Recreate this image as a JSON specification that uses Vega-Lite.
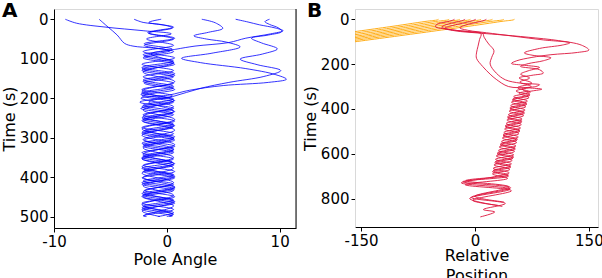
{
"$schema": "https://vega.github.io/schema/vega-lite/v6.json",
"padding": {"left": 0, "top": 0, "right": 0, "bottom": 0},
"bounds": "flush",
"spacing": 59,
"config": {
  "view": {"stroke": "#d9d9d9", "strokeWidth": 1},
  "font": "DejaVu Sans",
  "axis": {"labelFont": "DejaVu Sans", "titleFont": "DejaVu Sans", "labelFontSize": 15, "titleFontSize": 16, "labelColor": "#000", "titleColor": "#000", "titleFontWeight": "normal", "grid": false, "tickColor": "#000", "domainColor": "#000", "tickSize": 4, "labelPadding": 2, "labelFlush": false}
},
"datasets": {
"a": [
{"g":"m9","t":0,"x":-9},{"g":"m9","t":10,"x":-8},{"g":"m9","t":20,"x":-5.4},{"g":"m9","t":29,"x":-2.1},{"g":"m9","t":37,"x":0.4},{"g":"m9","t":50,"x":-1.8},{"g":"m9","t":66,"x":0.6},{"g":"m9","t":82,"x":-2.1},{"g":"m9","t":98,"x":0.7},{"g":"m9","t":114,"x":-2.2},{"g":"m9","t":130,"x":0.6},{"g":"m9","t":146,"x":-2.1},{"g":"m9","t":162,"x":0.6},{"g":"m9","t":178,"x":-2.2},{"g":"m9","t":194,"x":0.5},{"g":"m9","t":210,"x":-2.4},{"g":"m9","t":226,"x":0.6},{"g":"m9","t":242,"x":-2.1},{"g":"m9","t":258,"x":0.7},{"g":"m9","t":274,"x":-2.2},{"g":"m9","t":290,"x":0.6},{"g":"m9","t":306,"x":-2.0},{"g":"m9","t":322,"x":0.7},{"g":"m9","t":338,"x":-2.2},{"g":"m9","t":354,"x":0.6},{"g":"m9","t":370,"x":-2.1},{"g":"m9","t":386,"x":0.7},{"g":"m9","t":402,"x":-2.2},{"g":"m9","t":418,"x":0.6},{"g":"m9","t":434,"x":-2.0},{"g":"m9","t":450,"x":0.7},{"g":"m9","t":466,"x":-2.2},{"g":"m9","t":482,"x":0.6},{"g":"m9","t":498,"x":-2.1},{"g":"m9","t":500,"x":-1.9},
{"g":"m6","t":0,"x":-6},{"g":"m6","t":20,"x":-5.2},{"g":"m6","t":40,"x":-4.4},{"g":"m6","t":61,"x":-3.75},{"g":"m6","t":68,"x":-3.0},{"g":"m6","t":73,"x":-1.2},{"g":"m6","t":80,"x":0.3},{"g":"m6","t":94,"x":-2.0},{"g":"m6","t":110,"x":0.6},{"g":"m6","t":126,"x":-2.2},{"g":"m6","t":142,"x":0.7},{"g":"m6","t":158,"x":-2.1},{"g":"m6","t":174,"x":0.6},{"g":"m6","t":190,"x":-2.3},{"g":"m6","t":206,"x":0.7},{"g":"m6","t":222,"x":-2.2},{"g":"m6","t":238,"x":0.5},{"g":"m6","t":254,"x":-2.1},{"g":"m6","t":270,"x":0.7},{"g":"m6","t":286,"x":-2.2},{"g":"m6","t":302,"x":0.6},{"g":"m6","t":318,"x":-2.1},{"g":"m6","t":334,"x":0.6},{"g":"m6","t":350,"x":-2.2},{"g":"m6","t":366,"x":0.7},{"g":"m6","t":382,"x":-2.0},{"g":"m6","t":398,"x":0.6},{"g":"m6","t":414,"x":-2.2},{"g":"m6","t":430,"x":0.7},{"g":"m6","t":446,"x":-2.1},{"g":"m6","t":462,"x":0.6},{"g":"m6","t":478,"x":-2.2},{"g":"m6","t":494,"x":0.6},{"g":"m6","t":500,"x":0.0},
{"g":"m3","t":0,"x":-2.9},{"g":"m3","t":8,"x":-2.1},{"g":"m3","t":14,"x":-0.35},{"g":"m3","t":22,"x":0.5},{"g":"m3","t":35,"x":-1.6},{"g":"m3","t":50,"x":0.6},{"g":"m3","t":66,"x":-2.0},{"g":"m3","t":82,"x":0.6},{"g":"m3","t":98,"x":-2.1},{"g":"m3","t":114,"x":0.7},{"g":"m3","t":130,"x":-2.2},{"g":"m3","t":146,"x":0.6},{"g":"m3","t":162,"x":-2.0},{"g":"m3","t":178,"x":0.7},{"g":"m3","t":194,"x":-2.2},{"g":"m3","t":210,"x":0.6},{"g":"m3","t":226,"x":-2.3},{"g":"m3","t":242,"x":0.6},{"g":"m3","t":258,"x":-2.1},{"g":"m3","t":274,"x":0.5},{"g":"m3","t":290,"x":-2.2},{"g":"m3","t":306,"x":0.7},{"g":"m3","t":322,"x":-2.1},{"g":"m3","t":338,"x":0.6},{"g":"m3","t":354,"x":-2.2},{"g":"m3","t":370,"x":0.6},{"g":"m3","t":386,"x":-2.1},{"g":"m3","t":402,"x":0.7},{"g":"m3","t":418,"x":-2.2},{"g":"m3","t":434,"x":0.6},{"g":"m3","t":450,"x":-2.1},{"g":"m3","t":466,"x":0.7},{"g":"m3","t":482,"x":-2.2},{"g":"m3","t":498,"x":0.5},{"g":"m3","t":500,"x":0.3},
{"g":"z0","t":0,"x":-0.5},{"g":"z0","t":8,"x":-1.6},{"g":"z0","t":20,"x":0.6},{"g":"z0","t":34,"x":-1.7},{"g":"z0","t":48,"x":0.7},{"g":"z0","t":62,"x":-2.0},{"g":"z0","t":76,"x":0.5},{"g":"z0","t":90,"x":-2.1},{"g":"z0","t":106,"x":0.6},{"g":"z0","t":122,"x":-2.2},{"g":"z0","t":138,"x":0.7},{"g":"z0","t":154,"x":-2.1},{"g":"z0","t":170,"x":0.6},{"g":"z0","t":186,"x":-2.2},{"g":"z0","t":202,"x":0.6},{"g":"z0","t":218,"x":-2.1},{"g":"z0","t":234,"x":0.7},{"g":"z0","t":250,"x":-2.2},{"g":"z0","t":266,"x":0.6},{"g":"z0","t":282,"x":-2.0},{"g":"z0","t":298,"x":0.7},{"g":"z0","t":314,"x":-2.2},{"g":"z0","t":330,"x":0.6},{"g":"z0","t":346,"x":-2.1},{"g":"z0","t":362,"x":0.5},{"g":"z0","t":378,"x":-2.2},{"g":"z0","t":394,"x":0.6},{"g":"z0","t":410,"x":-2.1},{"g":"z0","t":426,"x":0.7},{"g":"z0","t":442,"x":-2.2},{"g":"z0","t":458,"x":0.6},{"g":"z0","t":474,"x":-2.1},{"g":"z0","t":490,"x":0.6},{"g":"z0","t":500,"x":-0.8},
{"g":"p3","t":0,"x":3.1},{"g":"p3","t":9,"x":4.3},{"g":"p3","t":23,"x":4.96},{"g":"p3","t":33,"x":3.7},{"g":"p3","t":42,"x":2.4},{"g":"p3","t":50,"x":3.5},{"g":"p3","t":58,"x":5.3},{"g":"p3","t":70,"x":6.5},{"g":"p3","t":86,"x":4.0},{"g":"p3","t":99,"x":1.3},{"g":"p3","t":110,"x":3.0},{"g":"p3","t":125,"x":7.0},{"g":"p3","t":140,"x":9.6},{"g":"p3","t":152,"x":10.6},{"g":"p3","t":160,"x":9.0},{"g":"p3","t":168,"x":5.0},{"g":"p3","t":180,"x":2.0},{"g":"p3","t":192,"x":0.2},{"g":"p3","t":200,"x":-2.3},{"g":"p3","t":222,"x":0.6},{"g":"p3","t":246,"x":-2.1},{"g":"p3","t":270,"x":0.6},{"g":"p3","t":294,"x":-2.2},{"g":"p3","t":318,"x":0.7},{"g":"p3","t":342,"x":-2.1},{"g":"p3","t":366,"x":0.6},{"g":"p3","t":390,"x":-2.2},{"g":"p3","t":414,"x":0.6},{"g":"p3","t":438,"x":-2.1},{"g":"p3","t":462,"x":0.7},{"g":"p3","t":486,"x":-2.2},{"g":"p3","t":500,"x":-0.6},
{"g":"p6","t":0,"x":6.1},{"g":"p6","t":7,"x":7.2},{"g":"p6","t":14,"x":8.2},{"g":"p6","t":22,"x":9.6},{"g":"p6","t":29,"x":10.3},{"g":"p6","t":37,"x":9.2},{"g":"p6","t":48,"x":7.0},{"g":"p6","t":59,"x":5.5},{"g":"p6","t":68,"x":2.5},{"g":"p6","t":76,"x":0.8},{"g":"p6","t":88,"x":-1.4},{"g":"p6","t":110,"x":0.6},{"g":"p6","t":134,"x":-2.1},{"g":"p6","t":158,"x":0.7},{"g":"p6","t":182,"x":-2.2},{"g":"p6","t":206,"x":0.6},{"g":"p6","t":230,"x":-2.1},{"g":"p6","t":254,"x":0.7},{"g":"p6","t":278,"x":-2.2},{"g":"p6","t":302,"x":0.6},{"g":"p6","t":326,"x":-2.1},{"g":"p6","t":350,"x":0.6},{"g":"p6","t":374,"x":-2.2},{"g":"p6","t":398,"x":0.7},{"g":"p6","t":422,"x":-2.1},{"g":"p6","t":446,"x":0.6},{"g":"p6","t":470,"x":-2.2},{"g":"p6","t":494,"x":0.5},{"g":"p6","t":500,"x":0.2},
{"g":"p9","t":0,"x":9.1},{"g":"p9","t":6,"x":8.7},{"g":"p9","t":13,"x":9.1},{"g":"p9","t":22,"x":9.9},{"g":"p9","t":31,"x":10.2},{"g":"p9","t":40,"x":9.0},{"g":"p9","t":48,"x":7.5},{"g":"p9","t":60,"x":8.4},{"g":"p9","t":75,"x":9.8},{"g":"p9","t":88,"x":8.5},{"g":"p9","t":101,"x":6.5},{"g":"p9","t":115,"x":8.0},{"g":"p9","t":130,"x":10.1},{"g":"p9","t":145,"x":8.6},{"g":"p9","t":160,"x":5.5},{"g":"p9","t":175,"x":3.0},{"g":"p9","t":196,"x":0.5},{"g":"p9","t":210,"x":-1.6},{"g":"p9","t":233,"x":0.6},{"g":"p9","t":257,"x":-2.2},{"g":"p9","t":281,"x":0.7},{"g":"p9","t":305,"x":-2.1},{"g":"p9","t":329,"x":0.6},{"g":"p9","t":353,"x":-2.2},{"g":"p9","t":377,"x":0.6},{"g":"p9","t":401,"x":-2.1},{"g":"p9","t":425,"x":0.7},{"g":"p9","t":449,"x":-2.2},{"g":"p9","t":473,"x":0.6},{"g":"p9","t":497,"x":-2.0},{"g":"p9","t":500,"x":-1.8}
],
"b": [
{"g":"o1","c":"o","t":0,"x":-48},{"g":"o1","c":"o","t":3,"x":-50},{"g":"o1","c":"o","t":5,"x":-54},{"g":"o1","c":"o","t":8,"x":-62},{"g":"o1","c":"o","t":31,"x":-108},{"g":"o1","c":"o","t":63,"x":-175},
{"g":"o2","c":"o","t":0,"x":-34},{"g":"o2","c":"o","t":3,"x":-36},{"g":"o2","c":"o","t":5,"x":-40},{"g":"o2","c":"o","t":8,"x":-48},{"g":"o2","c":"o","t":31,"x":-94},{"g":"o2","c":"o","t":70,"x":-175},
{"g":"o3","c":"o","t":0,"x":-20},{"g":"o3","c":"o","t":3,"x":-22},{"g":"o3","c":"o","t":5,"x":-26},{"g":"o3","c":"o","t":8,"x":-34},{"g":"o3","c":"o","t":31,"x":-80},{"g":"o3","c":"o","t":77,"x":-175},
{"g":"o4","c":"o","t":0,"x":-6},{"g":"o4","c":"o","t":3,"x":-8},{"g":"o4","c":"o","t":5,"x":-12},{"g":"o4","c":"o","t":8,"x":-20},{"g":"o4","c":"o","t":31,"x":-66},{"g":"o4","c":"o","t":84,"x":-175},
{"g":"o5","c":"o","t":0,"x":8},{"g":"o5","c":"o","t":3,"x":6},{"g":"o5","c":"o","t":5,"x":2},{"g":"o5","c":"o","t":8,"x":-6},{"g":"o5","c":"o","t":31,"x":-52},{"g":"o5","c":"o","t":90,"x":-175},
{"g":"o6","c":"o","t":0,"x":23},{"g":"o6","c":"o","t":3,"x":21},{"g":"o6","c":"o","t":5,"x":17},{"g":"o6","c":"o","t":8,"x":9},{"g":"o6","c":"o","t":31,"x":-37},{"g":"o6","c":"o","t":96,"x":-175},
{"g":"o7","c":"o","t":0,"x":38},{"g":"o7","c":"o","t":3,"x":36},{"g":"o7","c":"o","t":5,"x":32},{"g":"o7","c":"o","t":8,"x":24},{"g":"o7","c":"o","t":31,"x":-22},{"g":"o7","c":"o","t":102,"x":-175},
{"g":"o8","c":"o","t":0,"x":52},{"g":"o8","c":"o","t":3,"x":50},{"g":"o8","c":"o","t":5,"x":46},{"g":"o8","c":"o","t":8,"x":38},{"g":"o8","c":"o","t":31,"x":-8},{"g":"o8","c":"o","t":108,"x":-175},
{"g":"r1","c":"r","t":0,"x":1},{"g":"r1","c":"r","t":6,"x":-3},{"g":"r1","c":"r","t":14,"x":-12},{"g":"r1","c":"r","t":28,"x":-30},{"g":"r1","c":"r","t":40,"x":-40},{"g":"r1","c":"r","t":52,"x":-25},{"g":"r1","c":"r","t":60,"x":0},{"g":"r1","c":"r","t":68,"x":30},{"g":"r1","c":"r","t":80,"x":70},{"g":"r1","c":"r","t":95,"x":110},{"g":"r1","c":"r","t":115,"x":140},{"g":"r1","c":"r","t":137,"x":150},{"g":"r1","c":"r","t":148,"x":135},{"g":"r1","c":"r","t":158,"x":100},{"g":"r1","c":"r","t":170,"x":75},{"g":"r1","c":"r","t":185,"x":55},{"g":"r1","c":"r","t":197,"x":48},{"g":"r1","c":"r","t":205,"x":65},{"g":"r1","c":"r","t":215,"x":85},{"g":"r1","c":"r","t":230,"x":70},{"g":"r1","c":"r","t":245,"x":60},{"g":"r1","c":"r","t":262,"x":72},
{"g":"r1","c":"r","t":280,"x":59},{"g":"r1","c":"r","t":300,"x":74},{"g":"r1","c":"r","t":320,"x":54},{"g":"r1","c":"r","t":340,"x":72},{"g":"r1","c":"r","t":360,"x":49},{"g":"r1","c":"r","t":380,"x":68},{"g":"r1","c":"r","t":400,"x":46},{"g":"r1","c":"r","t":420,"x":65},{"g":"r1","c":"r","t":440,"x":43},{"g":"r1","c":"r","t":460,"x":61},{"g":"r1","c":"r","t":480,"x":40},{"g":"r1","c":"r","t":500,"x":59},{"g":"r1","c":"r","t":520,"x":37},{"g":"r1","c":"r","t":540,"x":55},{"g":"r1","c":"r","t":560,"x":33},{"g":"r1","c":"r","t":580,"x":53},{"g":"r1","c":"r","t":600,"x":29},{"g":"r1","c":"r","t":620,"x":50},{"g":"r1","c":"r","t":640,"x":26},{"g":"r1","c":"r","t":660,"x":47},{"g":"r1","c":"r","t":680,"x":23},{"g":"r1","c":"r","t":700,"x":44},{"g":"r1","c":"r","t":725,"x":-16},{"g":"r1","c":"r","t":752,"x":47},{"g":"r1","c":"r","t":795,"x":-5},{"g":"r1","c":"r","t":822,"x":40},{"g":"r1","c":"r","t":849,"x":11},{"g":"r1","c":"r","t":860,"x":26},{"g":"r1","c":"r","t":882,"x":7},
{"g":"r2","c":"r","t":0,"x":15},{"g":"r2","c":"r","t":5,"x":12},{"g":"r2","c":"r","t":12,"x":4},{"g":"r2","c":"r","t":25,"x":-12},{"g":"r2","c":"r","t":38,"x":-20},{"g":"r2","c":"r","t":50,"x":-8},{"g":"r2","c":"r","t":60,"x":15},{"g":"r2","c":"r","t":75,"x":50},{"g":"r2","c":"r","t":92,"x":90},{"g":"r2","c":"r","t":105,"x":125},{"g":"r2","c":"r","t":115,"x":115},{"g":"r2","c":"r","t":130,"x":85},{"g":"r2","c":"r","t":150,"x":65},{"g":"r2","c":"r","t":160,"x":75},{"g":"r2","c":"r","t":172,"x":100},{"g":"r2","c":"r","t":185,"x":90},{"g":"r2","c":"r","t":198,"x":70},{"g":"r2","c":"r","t":210,"x":60},{"g":"r2","c":"r","t":225,"x":85},{"g":"r2","c":"r","t":240,"x":90},{"g":"r2","c":"r","t":250,"x":75},{"g":"r2","c":"r","t":262,"x":58},
{"g":"r2","c":"r","t":285,"x":75},{"g":"r2","c":"r","t":305,"x":56},{"g":"r2","c":"r","t":325,"x":73},{"g":"r2","c":"r","t":345,"x":51},{"g":"r2","c":"r","t":365,"x":69},{"g":"r2","c":"r","t":385,"x":47},{"g":"r2","c":"r","t":405,"x":66},{"g":"r2","c":"r","t":425,"x":44},{"g":"r2","c":"r","t":445,"x":62},{"g":"r2","c":"r","t":465,"x":41},{"g":"r2","c":"r","t":485,"x":60},{"g":"r2","c":"r","t":505,"x":38},{"g":"r2","c":"r","t":525,"x":57},{"g":"r2","c":"r","t":545,"x":35},{"g":"r2","c":"r","t":565,"x":54},{"g":"r2","c":"r","t":585,"x":31},{"g":"r2","c":"r","t":605,"x":51},{"g":"r2","c":"r","t":625,"x":27},{"g":"r2","c":"r","t":645,"x":48},{"g":"r2","c":"r","t":665,"x":24},{"g":"r2","c":"r","t":685,"x":45},{"g":"r2","c":"r","t":705,"x":22},{"g":"r2","c":"r","t":730,"x":-18},{"g":"r2","c":"r","t":758,"x":46},{"g":"r2","c":"r","t":800,"x":-7},{"g":"r2","c":"r","t":835,"x":36},
{"g":"r3","c":"r","t":0,"x":-13},{"g":"r3","c":"r","t":5,"x":-16},{"g":"r3","c":"r","t":12,"x":-24},{"g":"r3","c":"r","t":24,"x":-38},{"g":"r3","c":"r","t":35,"x":-44},{"g":"r3","c":"r","t":47,"x":-30},{"g":"r3","c":"r","t":56,"x":-5},{"g":"r3","c":"r","t":65,"x":8},{"g":"r3","c":"r","t":90,"x":6},{"g":"r3","c":"r","t":120,"x":4},{"g":"r3","c":"r","t":150,"x":2},{"g":"r3","c":"r","t":174,"x":2},{"g":"r3","c":"r","t":210,"x":10},{"g":"r3","c":"r","t":245,"x":20},{"g":"r3","c":"r","t":268,"x":28},{"g":"r3","c":"r","t":300,"x":44},{"g":"r3","c":"r","t":306,"x":70},{"g":"r3","c":"r","t":312,"x":88},{"g":"r3","c":"r","t":320,"x":75},{"g":"r3","c":"r","t":330,"x":58},
{"g":"r3","c":"r","t":350,"x":71},{"g":"r3","c":"r","t":370,"x":48},{"g":"r3","c":"r","t":390,"x":67},{"g":"r3","c":"r","t":410,"x":45},{"g":"r3","c":"r","t":430,"x":64},{"g":"r3","c":"r","t":450,"x":42},{"g":"r3","c":"r","t":470,"x":61},{"g":"r3","c":"r","t":490,"x":39},{"g":"r3","c":"r","t":510,"x":58},{"g":"r3","c":"r","t":530,"x":36},{"g":"r3","c":"r","t":550,"x":55},{"g":"r3","c":"r","t":570,"x":32},{"g":"r3","c":"r","t":590,"x":52},{"g":"r3","c":"r","t":610,"x":28},{"g":"r3","c":"r","t":630,"x":49},{"g":"r3","c":"r","t":650,"x":25},{"g":"r3","c":"r","t":670,"x":46},{"g":"r3","c":"r","t":690,"x":23},{"g":"r3","c":"r","t":710,"x":43},{"g":"r3","c":"r","t":738,"x":-13},{"g":"r3","c":"r","t":765,"x":48},{"g":"r3","c":"r","t":808,"x":-3},{"g":"r3","c":"r","t":830,"x":30},
{"g":"r4","c":"r","t":0,"x":-27},{"g":"r4","c":"r","t":5,"x":-30},{"g":"r4","c":"r","t":12,"x":-38},{"g":"r4","c":"r","t":22,"x":-50},{"g":"r4","c":"r","t":33,"x":-52},{"g":"r4","c":"r","t":45,"x":-35},{"g":"r4","c":"r","t":55,"x":-10},{"g":"r4","c":"r","t":63,"x":10},{"g":"r4","c":"r","t":80,"x":12},{"g":"r4","c":"r","t":110,"x":18},{"g":"r4","c":"r","t":140,"x":25},{"g":"r4","c":"r","t":170,"x":22},{"g":"r4","c":"r","t":200,"x":20},{"g":"r4","c":"r","t":240,"x":28},{"g":"r4","c":"r","t":270,"x":40},{"g":"r4","c":"r","t":285,"x":60},{"g":"r4","c":"r","t":292,"x":85},{"g":"r4","c":"r","t":300,"x":80},{"g":"r4","c":"r","t":310,"x":62},
{"g":"r4","c":"r","t":335,"x":72},{"g":"r4","c":"r","t":355,"x":50},{"g":"r4","c":"r","t":375,"x":68},{"g":"r4","c":"r","t":395,"x":46},{"g":"r4","c":"r","t":415,"x":65},{"g":"r4","c":"r","t":435,"x":43},{"g":"r4","c":"r","t":455,"x":62},{"g":"r4","c":"r","t":475,"x":40},{"g":"r4","c":"r","t":495,"x":59},{"g":"r4","c":"r","t":515,"x":37},{"g":"r4","c":"r","t":535,"x":56},{"g":"r4","c":"r","t":555,"x":34},{"g":"r4","c":"r","t":575,"x":53},{"g":"r4","c":"r","t":595,"x":30},{"g":"r4","c":"r","t":615,"x":51},{"g":"r4","c":"r","t":635,"x":27},{"g":"r4","c":"r","t":655,"x":47},{"g":"r4","c":"r","t":675,"x":24},{"g":"r4","c":"r","t":695,"x":44},{"g":"r4","c":"r","t":720,"x":-12},{"g":"r4","c":"r","t":748,"x":45},{"g":"r4","c":"r","t":790,"x":0},{"g":"r4","c":"r","t":815,"x":38}
]
},
"hconcat": [
{
  "width": 242, "height": 219,
  "title": {"text": "A", "anchor": "start", "frame": "group", "fontSize": 20, "fontWeight": "bold", "font": "DejaVu Sans", "dx": -52, "dy": 8, "offset": -20, "baseline": "alphabetic", "color": "#000"},
  "layer": [
    {"data": {"name": "a"},
     "mark": {"type": "line", "interpolate": "catmull-rom", "strokeWidth": 0.8, "color": "#0000ff", "clip": true},
     "encoding": {
       "x": {"field": "x", "type": "quantitative", "scale": {"domain": [-10, 11.45], "nice": false, "zero": false}, "axis": {"values": [-10, 0, 10], "title": "Pole Angle", "labelExpr": "'' + datum.value", "titlePadding": 2}},
       "y": {"field": "t", "type": "quantitative", "scale": {"domain": [-26, 529], "nice": false, "zero": false, "reverse": true}, "axis": {"values": [0, 100, 200, 300, 400, 500], "title": "Time (s)", "titlePadding": 2}},
       "detail": {"field": "g"},
       "order": {"field": "t"}
     }},
    {"data": {"values": [{}]},
     "mark": {"type": "rule", "color": "#000", "strokeWidth": 1},
     "encoding": {"x": {"datum": 11.45}}}
  ]
},
{
  "width": 243, "height": 218,
  "title": {"text": "B", "anchor": "start", "frame": "group", "fontSize": 20, "fontWeight": "bold", "font": "DejaVu Sans", "dx": -48, "dy": 8, "offset": -20, "baseline": "alphabetic", "color": "#000"},
  "data": {"name": "b"},
  "mark": {"type": "line", "interpolate": "catmull-rom", "strokeWidth": 0.9, "clip": true},
  "encoding": {
    "x": {"field": "x", "type": "quantitative", "scale": {"domain": [-158, 162], "nice": false, "zero": false}, "axis": {"values": [-150, 0, 150], "title": ["Relative", "Position"], "titleLineHeight": 20, "labelExpr": "'' + datum.value", "titlePadding": -1}},
    "y": {"field": "t", "type": "quantitative", "scale": {"domain": [-46, 927], "nice": false, "zero": false, "reverse": true}, "axis": {"values": [0, 200, 400, 600, 800], "title": "Time (s)", "titlePadding": 2, "domainColor": "#d9d9d9"}},
    "color": {"field": "c", "type": "nominal", "scale": {"domain": ["o", "r"], "range": ["#ffa500", "#dc143c"]}, "legend": null},
    "detail": {"field": "g"},
    "order": {"field": "t"}
  }
}
]
}
